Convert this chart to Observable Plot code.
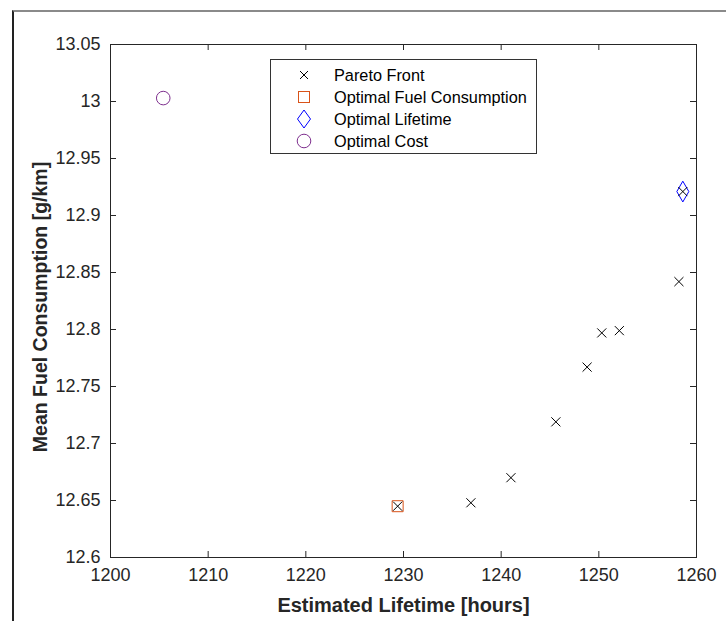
<!DOCTYPE html>
<html><head><meta charset="utf-8">
<script src="https://cdn.jsdelivr.net/npm/d3@7"></script>
<script src="https://cdn.jsdelivr.net/npm/@observablehq/plot@0.6"></script>
<style>
body{margin:0;background:#fff;font-family:"Liberation Sans",Arial,sans-serif;}
#wrap{position:relative;width:726px;height:621px;overflow:hidden;}
#frame{position:absolute;left:12px;top:10px;width:800px;height:700px;border-left:2px solid #222;border-top:2px solid #8a8a8a;pointer-events:none;}
#legend{position:absolute;left:270px;top:59px;width:265px;height:93px;border:1px solid #333;background:#fff;font-size:16.3px;color:#000;}
#legend .row{position:absolute;left:0;height:20px;display:flex;align-items:center;}
#legend svg{position:absolute;left:25px;}
#legend span{position:absolute;left:63px;white-space:nowrap;}
</style></head>
<body><div id="wrap"><div id="frame"></div></div>
<script>
const paretoLife = [1229.4, 1236.9, 1241.0, 1245.6, 1248.8, 1250.3, 1252.1, 1258.2, 1258.6];
const paretoFuel = [12.645, 12.648, 12.670, 12.719, 12.767, 12.797, 12.799, 12.842, 12.921];
const optFuelLife = [1229.4], optFuelFuel = [12.645];
const optLifeLife = [1258.6], optLifeFuel = [12.921];
const optCostLife = [1205.4], optCostFuel = [13.003];
const xTicks = [1200, 1210, 1220, 1230, 1240, 1250, 1260];
const yTicks = [12.6, 12.65, 12.7, 12.75, 12.8, 12.85, 12.9, 12.95, 13, 13.05];
const legendLabels = ["Pareto Front", "Optimal Fuel Consumption", "Optimal Lifetime", "Optimal Cost"];
const colors = {pareto: "#000000", fuel: "#D95319", life: "#0000FF", cost: "#7E2F8E"};

const W = 726, H = 621, mL = 110, mR = 30, mT = 44, mB = 64;
const fw = W - mL - mR, fh = H - mT - mB, tick = 6;
const pts = (xs, ys) => xs.map((x, i) => ({x, y: ys[i]}));
const plot = Plot.plot({
  width: W, height: H,
  marginLeft: mL, marginRight: mR, marginTop: mT, marginBottom: mB,
  style: {fontFamily: "Liberation Sans, Arial, sans-serif", fontSize: "18px", color: "#262626", background: "transparent"},
  x: {domain: [1200, 1260]},
  y: {domain: [12.6, 13.05]},
  marks: [
    Plot.frame({stroke: "#262626", strokeWidth: 1}),
    Plot.tickX(xTicks, {x: d => d, insetTop: fh - tick, stroke: "#262626"}),
    Plot.tickX(xTicks, {x: d => d, insetBottom: fh - tick, stroke: "#262626"}),
    Plot.tickY(yTicks, {y: d => d, insetRight: fw - tick, stroke: "#262626"}),
    Plot.tickY(yTicks, {y: d => d, insetLeft: fw - tick, stroke: "#262626"}),
    Plot.axisX({ticks: xTicks, tickSize: 0, tickPadding: 11, tickFormat: d => String(d), label: null, fontSize: 18, fill: "#262626"}),
    Plot.axisY({ticks: yTicks, tickSize: 0, tickPadding: 10, tickFormat: d => String(d), label: null, fontSize: 18, fill: "#262626"}),
    Plot.text(["Estimated Lifetime [hours]"], {frameAnchor: "bottom", lineAnchor: "middle", dy: 48, fontSize: 20, fontWeight: "bold", fill: "#262626"}),
    Plot.text(["Mean Fuel Consumption [g/km]"], {frameAnchor: "left", textAnchor: "middle", lineAnchor: "middle", dx: -70, dy: 6, rotate: -90, fontSize: 19.5, fontWeight: "bold", fill: "#262626"}),
    Plot.dot(pts(optFuelLife, optFuelFuel), {x: "x", y: "y", symbol: "square", r: 6.2, stroke: colors.fuel, fill: "none", strokeWidth: 1}),
    Plot.dot(pts(optLifeLife, optLifeFuel), {x: "x", y: "y", symbol: "diamond", r: 6.3, stroke: colors.life, fill: "none", strokeWidth: 1}),
    Plot.dot(pts(optCostLife, optCostFuel), {x: "x", y: "y", symbol: "circle", r: 6.8, stroke: colors.cost, fill: "none", strokeWidth: 1}),
    Plot.dot(pts(paretoLife, paretoFuel), {x: "x", y: "y", symbol: "times", r: 4.2, stroke: colors.pareto, strokeWidth: 1})
  ]
});
document.getElementById("wrap").prepend(plot);

// legend
const leg = document.createElement("div");
leg.id = "legend";
const markers = [
  `<svg width="16" height="16" viewBox="-8 -8 16 16"><path d="M-4,-4L4,4M-4,4L4,-4" stroke="${colors.pareto}" fill="none"/></svg>`,
  `<svg width="16" height="16" viewBox="-8 -8 16 16"><rect x="-5.5" y="-5.5" width="11" height="11" stroke="${colors.fuel}" fill="none"/></svg>`,
  `<svg width="16" height="20" viewBox="-8 -10 16 20"><path d="M0,-9L6.5,0L0,9L-6.5,0Z" stroke="${colors.life}" fill="none"/></svg>`,
  `<svg width="16" height="16" viewBox="-8 -8 16 16"><circle r="6.8" stroke="${colors.cost}" fill="none"/></svg>`
];
legendLabels.forEach((lab, i) => {
  const row = document.createElement("div");
  row.className = "row";
  row.style.top = (5 + i * 22) + "px";
  row.style.width = "265px";
  row.innerHTML = markers[i] + `<span>${lab}</span>`;
  leg.appendChild(row);
});
document.getElementById("wrap").appendChild(leg);
</script>
</body></html>
